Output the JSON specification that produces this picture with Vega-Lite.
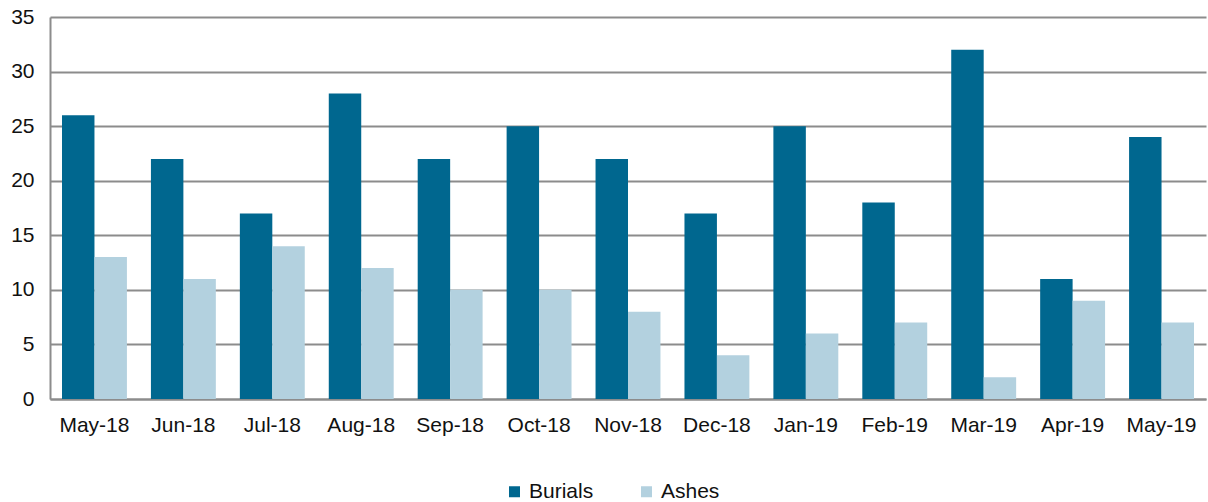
{
  "$schema": "https://vega.github.io/schema/vega-lite/v6.json",
  "width": 1156,
  "height": 382,
  "padding": {"left": 10, "top": 6, "right": 1, "bottom": 0},
  "autosize": {"type": "pad"},
  "data": {
    "values": [
      {"month": "May-18", "series": "Burials", "value": 26},
      {"month": "May-18", "series": "Ashes", "value": 13},
      {"month": "Jun-18", "series": "Burials", "value": 22},
      {"month": "Jun-18", "series": "Ashes", "value": 11},
      {"month": "Jul-18", "series": "Burials", "value": 17},
      {"month": "Jul-18", "series": "Ashes", "value": 14},
      {"month": "Aug-18", "series": "Burials", "value": 28},
      {"month": "Aug-18", "series": "Ashes", "value": 12},
      {"month": "Sep-18", "series": "Burials", "value": 22},
      {"month": "Sep-18", "series": "Ashes", "value": 10},
      {"month": "Oct-18", "series": "Burials", "value": 25},
      {"month": "Oct-18", "series": "Ashes", "value": 10},
      {"month": "Nov-18", "series": "Burials", "value": 22},
      {"month": "Nov-18", "series": "Ashes", "value": 8},
      {"month": "Dec-18", "series": "Burials", "value": 17},
      {"month": "Dec-18", "series": "Ashes", "value": 4},
      {"month": "Jan-19", "series": "Burials", "value": 25},
      {"month": "Jan-19", "series": "Ashes", "value": 6},
      {"month": "Feb-19", "series": "Burials", "value": 18},
      {"month": "Feb-19", "series": "Ashes", "value": 7},
      {"month": "Mar-19", "series": "Burials", "value": 32},
      {"month": "Mar-19", "series": "Ashes", "value": 2},
      {"month": "Apr-19", "series": "Burials", "value": 11},
      {"month": "Apr-19", "series": "Ashes", "value": 9},
      {"month": "May-19", "series": "Burials", "value": 24},
      {"month": "May-19", "series": "Ashes", "value": 7}
    ]
  },
  "mark": {"type": "bar"},
  "encoding": {
    "x": {
      "field": "month",
      "type": "nominal",
      "sort": null,
      "scale": {"paddingInner": 0.27, "paddingOuter": 0.135},
      "axis": {
        "title": null,
        "labelAngle": 0,
        "labelFontSize": 21,
        "labelPadding": 15,
        "ticks": false,
        "domainColor": "#8c8c8c",
        "domainWidth": 2,
        "labelColor": "#111111"
      }
    },
    "xOffset": {"field": "series", "sort": ["Burials", "Ashes"]},
    "y": {
      "field": "value",
      "type": "quantitative",
      "scale": {"domain": [0, 35]},
      "axis": {
        "title": null,
        "values": [0, 5, 10, 15, 20, 25, 30, 35],
        "ticks": false,
        "labelFontSize": 21,
        "labelPadding": 16,
        "labelColor": "#111111",
        "gridColor": "#8c8c8c",
        "gridWidth": 2,
        "domainColor": "#8c8c8c",
        "domainWidth": 2
      }
    },
    "color": {
      "field": "series",
      "scale": {"domain": ["Burials", "Ashes"], "range": ["#00678f", "#b3d1df"]},
      "legend": {
        "title": null,
        "orient": "none",
        "legendX": 454,
        "legendY": 464,
        "direction": "horizontal",
        "symbolType": "square",
        "symbolSize": 121,
        "symbolStrokeWidth": 0,
        "labelFontSize": 21,
        "labelColor": "#111111",
        "columnPadding": 42,
        "labelOffset": 4
      }
    }
  },
  "config": {
    "font": "Liberation Sans",
    "view": {"stroke": null}
  }
}
